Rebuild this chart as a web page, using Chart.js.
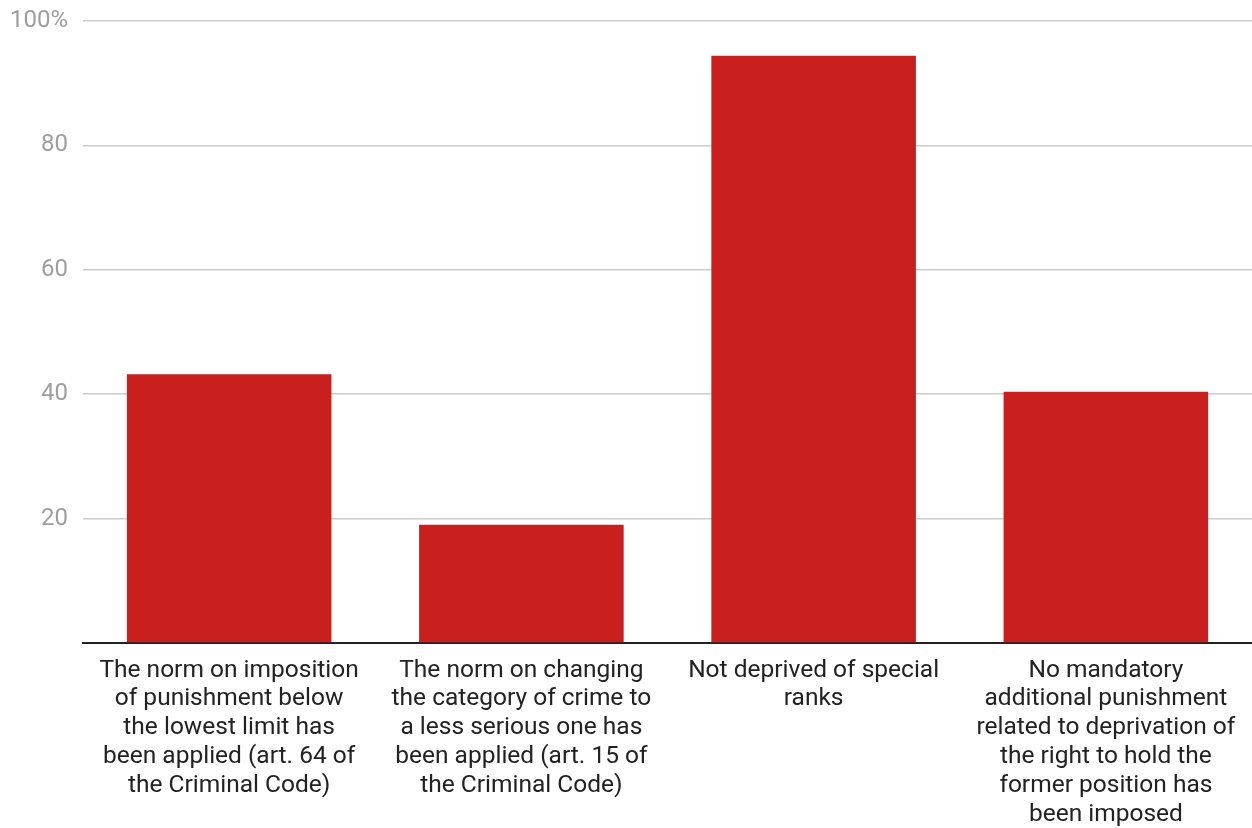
<!DOCTYPE html>
<html>
<head>
<meta charset="utf-8">
<script src="https://cdn.jsdelivr.net/npm/chart.js@4.4.1/dist/chart.umd.min.js"></script>
<style>
    html, body { margin: 0; padding: 0; background: #fff; }
    #wrap { width: 1252px; height: 828px; }
</style>
</head>
<body>
<div id="wrap"><canvas id="barChart"></canvas></div>
<script>
    const categories = [
        ['The norm on imposition', 'of punishment below', 'the lowest limit has', 'been applied (art. 64 of', 'the Criminal Code)'],
        ['The norm on changing', 'the category of crime to', 'a less serious one has', 'been applied (art. 15 of', 'the Criminal Code)'],
        ['Not deprived of special', 'ranks'],
        ['No mandatory', 'additional punishment', 'related to deprivation of', 'the right to hold the', 'former position has', 'been imposed']
    ];
    const shares = [43.2, 19.0, 94.4, 40.4];
    const yTicks = [0, 20, 40, 60, 80, 100];

    let barColor = 'rgb(201, 31, 31)';
    let gridColor = 'rgb(204, 204, 204)';
    let tickColor = 'rgb(158, 158, 158)';

    const config = {
        type: 'bar',
        data: {
            labels: categories,
            datasets: [{
                data: shares,
                backgroundColor: barColor,
                borderWidth: 0,
                categoryPercentage: 0.7,
                barPercentage: 1.0
            }]
        },
        options: {
            animation: false,
            responsive: true,
            maintainAspectRatio: false,
            layout: {
                padding: { top: 21, right: 0, left: 0, bottom: 0 }
            },
            plugins: {
                legend: { display: false },
                tooltip: { enabled: false }
            },
            scales: {
                x: {
                    afterFit: (axis) => { axis.height = 185; },
                    grid: { display: false },
                    border: { display: true, color: '#222', width: 2 },
                    ticks: {
                        color: '#222',
                        maxRotation: 0,
                        autoSkip: false,
                        padding: 5,
                        font: { family: 'Roboto', size: 24.5, lineHeight: 1.18 }
                    }
                },
                y: {
                    min: yTicks[0],
                    max: yTicks[yTicks.length - 1],
                    afterBuildTicks: (axis) => {
                        axis.ticks = yTicks.map(v => ({ value: v }));
                    },
                    afterFit: (axis) => {
                        axis.width = 83;
                        axis.paddingTop = 0;
                    },
                    border: { display: false },
                    grid: {
                        color: gridColor,
                        lineWidth: 1.5,
                        drawTicks: false
                    },
                    ticks: {
                        color: tickColor,
                        padding: 15,
                        font: { family: 'Roboto', size: 24 },
                        callback: (v) => v === 0 ? '' : (v === 100 ? v + '%' : String(v))
                    }
                }
            }
        }
    };

    new Chart('barChart', config);
</script>
</body>
</html>
